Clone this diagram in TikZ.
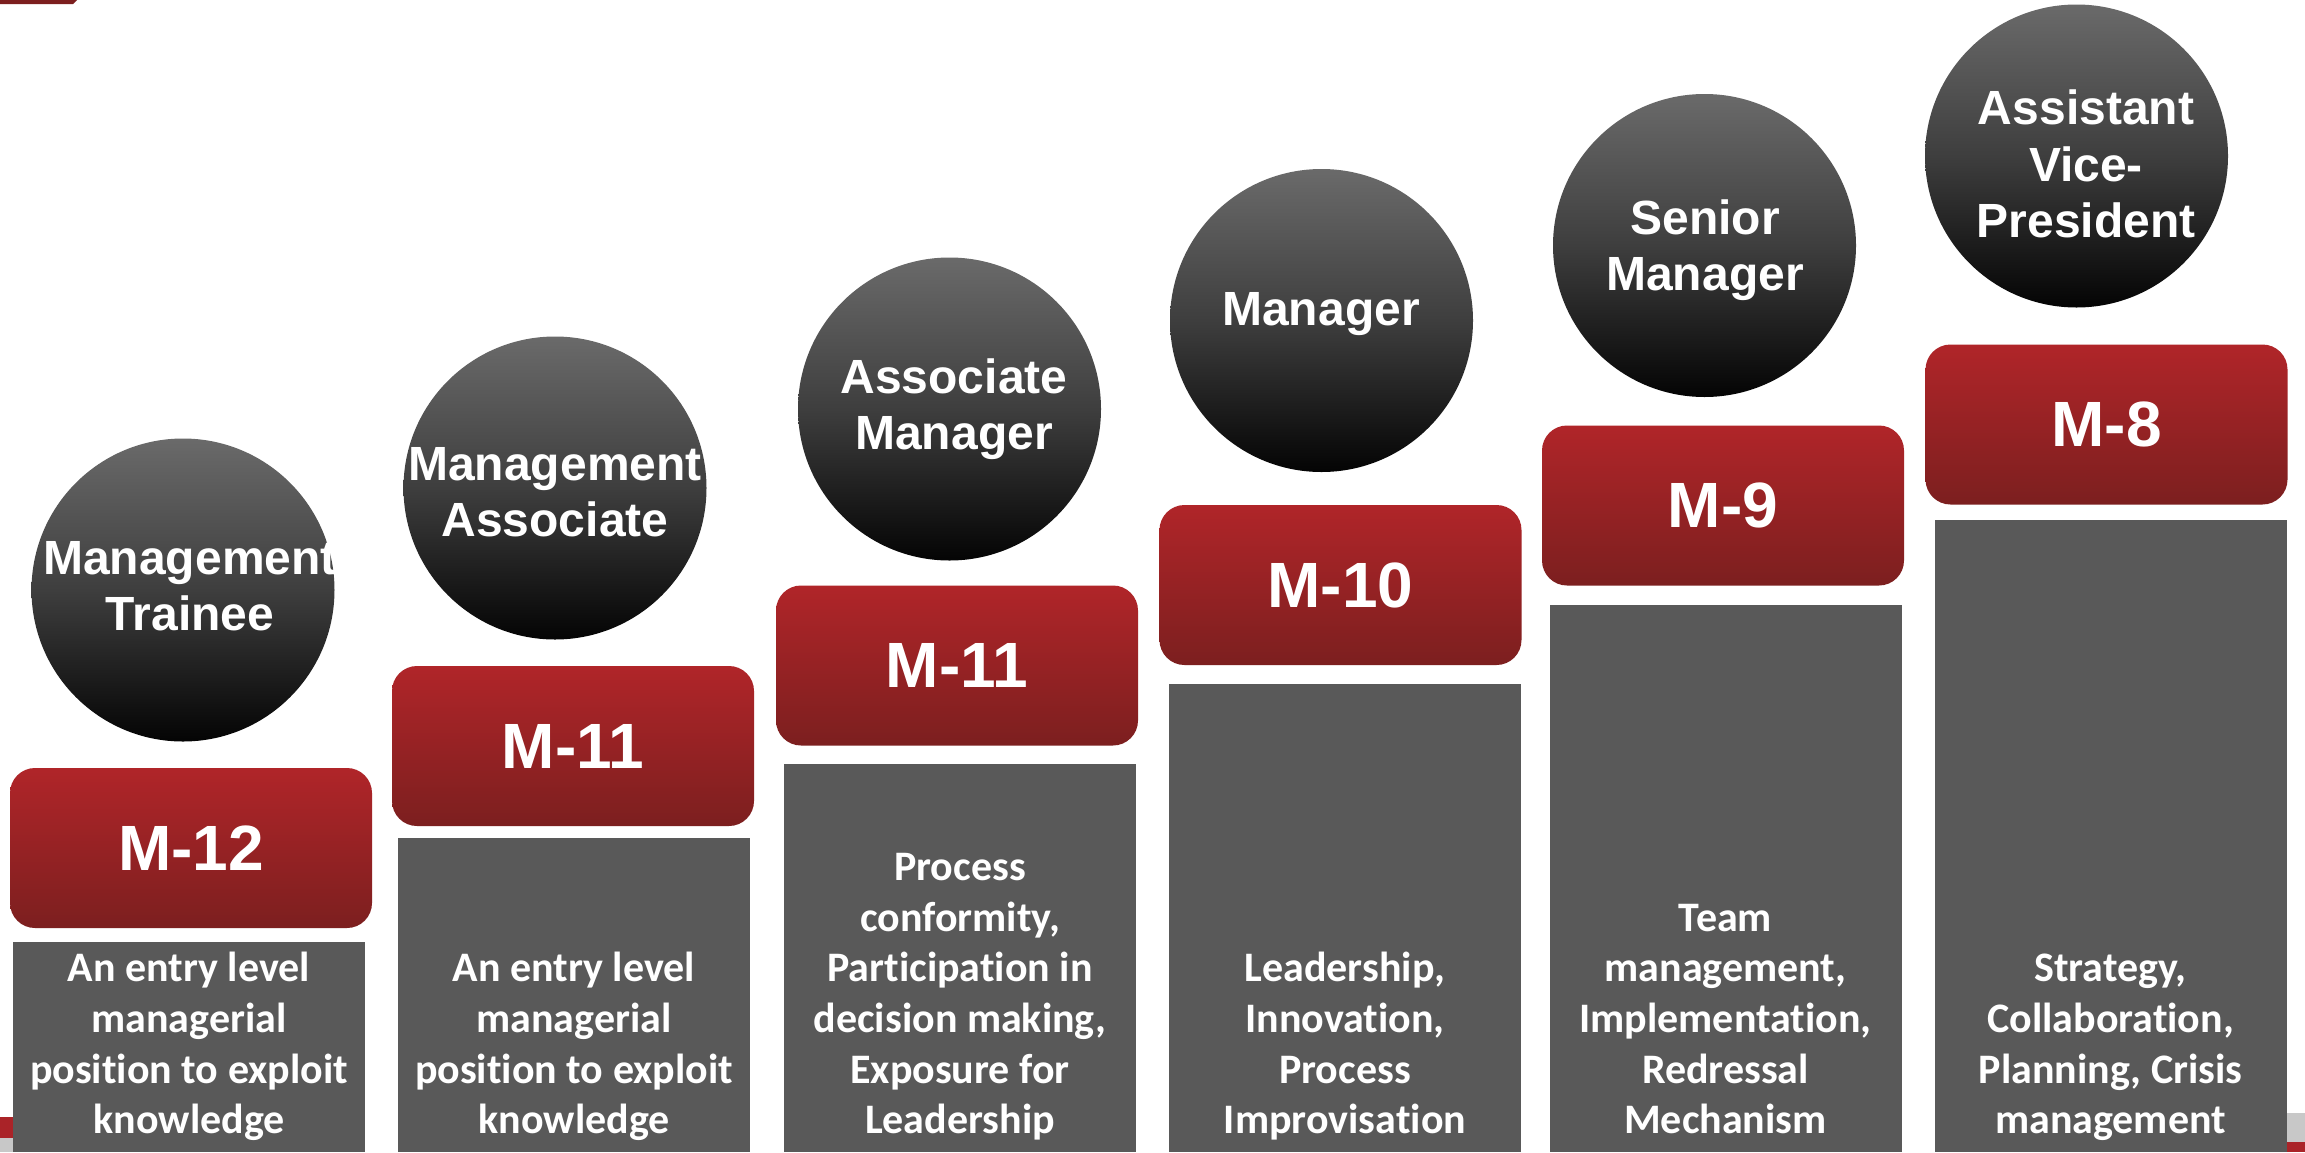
\documentclass[tikz,border=0pt]{standalone}
\usepackage{fontspec}
\setmainfont{Liberation Sans}
\newfontfamily\carlito{Carlito}[Ligatures=NoCommon]
\definecolor{redtop}{RGB}{176,37,41}
\definecolor{redbot}{RGB}{124,31,31}
\definecolor{graybox}{RGB}{89,89,89}
\definecolor{circtop}{RGB}{106,106,106}
\definecolor{circmid}{RGB}{62,62,62}
\definecolor{circbot}{RGB}{4,4,4}
\definecolor{footgray}{RGB}{200,200,200}
\definecolor{footred}{RGB}{170,35,40}
\begin{document}
\begin{tikzpicture}[x=1pt,y=-1pt,
  ball/.style={circle, minimum size=303pt, inner sep=0pt, draw=none,
    top color=circtop, bottom color=circbot, middle color=circmid},
  lvl/.style={rectangle, rounded corners=25pt, minimum width=362pt, minimum height=160pt,
    inner sep=0pt, top color=redtop, bottom color=redbot, draw=none, text=white,
    font=\bfseries\fontsize{64}{70}\selectfont},
  desc/.style={rectangle, fill=graybox, minimum width=352pt, inner sep=0pt, anchor=north, draw=none},
  desctext/.style={align=center, text=white, inner sep=0pt, text depth=0pt, anchor=south,
    font=\carlito\bfseries\fontsize{42}{50.7}\selectfont},
  title/.style={align=center, text=white, inner sep=0pt, text depth=0pt, anchor=south,
    font=\bfseries\fontsize{48}{56.5}\selectfont}
]
\useasboundingbox (0,0) rectangle (2305,1152);
\fill[white] (0,0) rectangle (2305,1152);

% slide decorations at the edges
\fill[redbot] (0,0) -- (77,0) -- (73,4) -- (0,4) -- cycle;
\fill[footred] (0,1117) rectangle (14,1138);
\fill[footgray] (0,1138) rectangle (14,1152);
\fill[footgray] (2286,1113) rectangle (2305,1142);
\fill[footred] (2286,1142) rectangle (2305,1152);

% gray description boxes
\node[desc, minimum height=210pt] (g1) at (189,942) {};
\node[desc, minimum height=314pt] (g2) at (574,838) {};
\node[desc, minimum height=388pt] (g3) at (960,764) {};
\node[desc, minimum height=468pt] (g4) at (1345,684) {};
\node[desc, minimum height=547pt] (g5) at (1725.5,605) {};
\node[desc, minimum height=632pt] (g6) at (2110.5,520) {};

\node[desctext] (d1) at (189,1134) {An entry level\\managerial\\position to exploit\\knowledge};
\node[desctext] (d2) at (574,1134) {An entry level\\managerial\\position to exploit\\knowledge};
\node[desctext] (d3) at (960,1134) {Process\\conformity,\\Participation in\\decision making,\\Exposure for\\Leadership};
\node[desctext] (d4) at (1345,1134) {Leadership,\\Innovation,\\Process\\Improvisation};
\node[desctext] (d5) at (1725.5,1134) {Team\\management,\\Implementation,\\Redressal\\Mechanism};
\node[desctext] (d6) at (2110.5,1134) {Strategy,\\Collaboration,\\Planning, Crisis\\management};

% red level boxes
\node[lvl] (r1) at (191,848) {M-12};
\node[lvl] (r2) at (573,746) {M-11};
\node[lvl] (r3) at (957,665.5) {M-11};
\node[lvl] (r4) at (1340.5,585) {M-10};
\node[lvl] (r5) at (1723,505.5) {M-9};
\node[lvl] (r6) at (2106.5,424.5) {M-8};

% circles
\node[ball] (c1) at (183,590) {};
\node[ball] (c2) at (555,488) {};
\node[ball] (c3) at (949.5,409) {};
\node[ball] (c4) at (1321.5,320.5) {};
\node[ball] (c5) at (1704.5,245.5) {};
\node[ball] (c6) at (2076.5,156) {};

\node[title] (t1) at (190,631) {Management\\Trainee};
\node[title] (t2) at (555,537) {Management\\Associate};
\node[title] (t3) at (954,450) {Associate\\Manager};
\node[title] (t4) at (1321,326) {Manager};
\node[title] (t5) at (1705,291) {Senior\\Manager};
\node[title] (t6) at (2086,238) {Assistant\\Vice-\\President};
\end{tikzpicture}
\end{document}
